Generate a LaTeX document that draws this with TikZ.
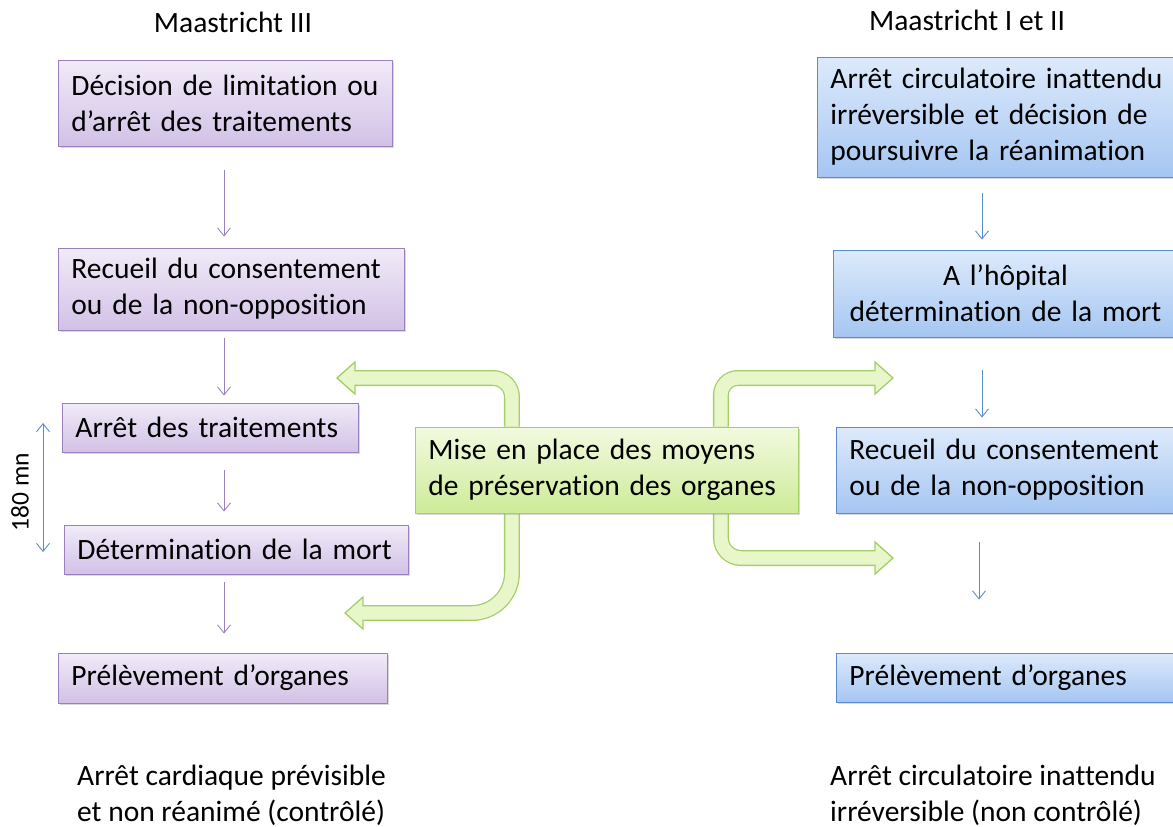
\documentclass[tikz,border=0pt]{standalone}
\usepackage{fontspec}
\setmainfont{Carlito}[Ligatures=CommonOff]
\usetikzlibrary{arrows.meta}
\usetikzlibrary{shadows}
\usetikzlibrary{backgrounds}
\definecolor{purpleTop}{HTML}{F1EBF8}
\definecolor{purpleBot}{HTML}{D2C1E6}
\definecolor{purpleEdge}{HTML}{9A80BE}
\definecolor{blueTop}{HTML}{DDEAFB}
\definecolor{blueBot}{HTML}{A5C6F2}
\definecolor{blueEdge}{HTML}{5B8BCB}
\definecolor{greenTop}{HTML}{F2FAE0}
\definecolor{greenBot}{HTML}{CDEB98}
\definecolor{greenEdge}{HTML}{A6CE68}
\definecolor{greenBody}{HTML}{E8F7C9}

\begin{document}
\begin{tikzpicture}[x=1pt, y=-1pt,
every node/.style = {font=\fontsize{29.5}{36}\selectfont, inner sep=0pt},
  box/.style={draw, line width=0.9pt, inner xsep=13pt, inner ysep=0pt, align=left, anchor=west,
    drop shadow={shadow xshift=1.3pt, shadow yshift=-2.3pt, opacity=0.3}},
  pbox/.style={box, draw=purpleEdge, top color=purpleTop, bottom color=purpleBot},
  bbox/.style={box, draw=blueEdge, top color=blueTop, bottom color=blueBot},
  gbox/.style={box, draw=greenEdge, top color=greenTop, bottom color=greenBot},
  parrow/.style={draw=purpleEdge, line width=0.9pt, -{Straight Barb[length=8pt,width=13pt]}},
  barrow/.style={draw=blueEdge, line width=0.9pt, -{Straight Barb[length=8pt,width=13pt]}},
  gedge/.style={draw=greenEdge, line width=16pt},
  gbody/.style={draw=greenBody, line width=13.4pt},
  ghead/.style={draw=greenEdge, fill=greenBody, line width=1.3pt, line join=miter}]

\useasboundingbox (0,0) rectangle (1173,827);

\node (titleIII) at (233,22) {Maastricht III};
\node (titleIandII) at (967,20) {Maastricht I et II};

\node[pbox, text width=308pt, minimum height=86pt] (decision) at (58,103) {Décision de limitation ou\\d’arrêt des traitements};
\node[pbox, text width=320pt, minimum height=82pt] (recueilL) at (58,289) {Recueil du consentement\\ou de la non-opposition};
\node[pbox, text width=270pt, minimum height=49pt] (arret) at (62,427.5) {Arrêt des traitements};
\node[pbox, text width=318pt, minimum height=49pt] (mortL) at (64,549.5) {Détermination de la mort};
\node[pbox, text width=303pt, minimum height=50pt] (prelevL) at (58,678) {Prélèvement d’organes};

\node[gbox, text width=357pt, minimum height=86pt] (moyens) at (415,470) {Mise en place des moyens\\de préservation des organes};

\node[bbox, text width=344pt, minimum height=120pt] (inattendu) at (817,117) {Arrêt circulatoire inattendu\\irréversible et décision de\\poursuivre la réanimation};
\node[bbox, text width=318pt, minimum height=87pt, align=center] (hopital) at (833,293.5) {A l’hôpital\\détermination de la mort};
\node[bbox, text width=340pt, minimum height=86pt] (recueilR) at (836,470) {Recueil du consentement\\ou de la non-opposition};
\node[bbox, text width=340pt, minimum height=49pt] (prelevR) at (836,677.5) {Prélèvement d’organes};

\node[anchor=west, align=left] (controle) at (77,795) {Arrêt cardiaque prévisible\\et non réanimé (contrôlé)};
\node[anchor=west, align=left] (noncontrole) at (830,795) {Arrêt circulatoire inattendu\\irréversible (non contrôlé)};

\coordinate (lx) at (224,0);
\coordinate (rx) at (982,0);
\coordinate (rxx) at (979,0);
\draw[parrow, shorten <=24pt, shorten >=11pt] (decision.south -| lx) -- (recueilL.north -| lx);
\draw[parrow, shorten <=8pt, shorten >=7pt] (recueilL.south -| lx) -- (arret.north -| lx);
\draw[parrow, shorten <=18pt, shorten >=13pt] (arret.south -| lx) -- (mortL.north -| lx);
\draw[parrow, shorten <=8pt, shorten >=19pt] (mortL.south -| lx) -- (prelevL.north -| lx);
\draw[barrow, shorten <=16pt, shorten >=10pt] (inattendu.south -| rx) -- (hopital.north -| rx);
\draw[barrow, shorten <=33pt, shorten >=9pt] (hopital.south -| rx) -- (recueilR.north -| rx);
\draw[barrow, shorten <=29pt, shorten >=53pt] (recueilR.south -| rxx) -- (prelevR.north -| rxx);

\coordinate (dureeA) at (43,423);
\coordinate (dureeB) at (43,552);
\draw[barrow, {Straight Barb[length=8pt,width=13pt]}-{Straight Barb[length=8pt,width=13pt]}] (dureeA) -- (dureeB);
\node[rotate=90, font=\fontsize{25.5}{30}\selectfont] (duree) at (20,492) {180 mn};

\coordinate (tipUL) at (337,378);
\coordinate (tipLL) at (345,613);
\coordinate (tipUR) at (893,378);
\coordinate (tipLR) at (893,558);
\begin{scope}[on background layer]
\draw[gedge, rounded corners=19pt] ([xshift=-95pt]moyens.north) |- ([xshift=18pt]tipUL);
\draw[ghead] (tipUL) -- ++(18,-16) -- ++(0,32) -- cycle;
\draw[gbody, rounded corners=19pt] ([xshift=-95pt]moyens.north) |- ([xshift=15pt]tipUL);
\draw[gedge, rounded corners=40pt] ([xshift=-95pt]moyens.south) |- ([xshift=18pt]tipLL);
\draw[ghead] (tipLL) -- ++(18,-16) -- ++(0,32) -- cycle;
\draw[gbody, rounded corners=40pt] ([xshift=-95pt]moyens.south) |- ([xshift=15pt]tipLL);
\draw[gedge, rounded corners=17pt] ([xshift=114pt]moyens.north) |- ([xshift=-18pt]tipUR);
\draw[ghead] (tipUR) -- ++(-18,-16) -- ++(0,32) -- cycle;
\draw[gbody, rounded corners=17pt] ([xshift=114pt]moyens.north) |- ([xshift=-15pt]tipUR);
\draw[gedge, rounded corners=20pt] ([xshift=114pt]moyens.south) |- ([xshift=-18pt]tipLR);
\draw[ghead] (tipLR) -- ++(-18,-16) -- ++(0,32) -- cycle;
\draw[gbody, rounded corners=20pt] ([xshift=114pt]moyens.south) |- ([xshift=-15pt]tipLR);
\end{scope}
\end{tikzpicture}
\end{document}
